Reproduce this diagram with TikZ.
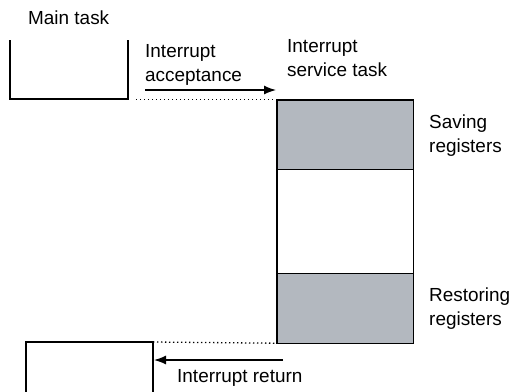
\documentclass[tikz,border=0pt]{standalone}
\usepackage{fontspec}
\setmainfont{Liberation Sans}
\usetikzlibrary{arrows.meta}
\definecolor{regfill}{RGB}{179,184,191}
\begin{document}
\begin{tikzpicture}[x=1bp,y=-1bp,
  lbl/.style={anchor=north west, inner sep=0pt, align=left, font=\fontsize{19}{23.5}\selectfont},
  boxline/.style={line width=1.3bp},
  seg/.style={minimum width=136bp, inner sep=0pt, anchor=north west},
  dots/.style={line width=1.3bp, dash pattern=on 1.3bp off 2.7bp},
  arr/.style={line width=1.3bp, -{Latex[length=12bp,width=9bp]}}]
\useasboundingbox (0,0) rectangle (512,391);
% interrupt service task column
\node[seg, fill=regfill, minimum height=69bp] (save) at (277,100) {};
\node[seg, minimum height=104bp] (body) at (save.south west) {};
\node[seg, fill=regfill, minimum height=69bp] (restore) at (body.south west) {};
\draw[boxline] (save.north west) rectangle (restore.south east);
\draw[boxline] (save.south west) -- (save.south east);
\draw[boxline] (restore.north west) -- (restore.north east);
% main task (top)
\coordinate (mtl) at (10,40);
\coordinate (mbl) at (10,99);
\coordinate (mbr) at (128,99);
\coordinate (mtr) at (128,40);
\draw[boxline] (mtl) -- (mbl) -- (mbr) -- (mtr);
% main task (bottom)
\coordinate (ntl) at (26,395);
\coordinate (nbl) at (26,342);
\coordinate (nbr) at (153,342);
\coordinate (ntr) at (153,395);
\draw[boxline] (ntl) -- (nbl) -- (nbr) -- (ntr);
% dotted guides
\coordinate (dstart) at (136,99.5);
\draw[dots] (dstart) -- (save.north west |- dstart);
\draw[dots] (nbr) -- (restore.south west);
% arrows
\coordinate (accs) at (145,90);
\coordinate (acce) at (276,90);
\draw[arr] (accs) -- (acce);
\coordinate (rets) at (283,360);
\coordinate (rete) at (154,360);
\draw[arr] (rets) -- (rete);
% labels
\node[lbl] (lmain) at (28,10.5) {Main task};
\node[lbl] (lacc) at (145,44.5) {Interrupt\\acceptance};
\node[lbl] (list) at (287,39.5) {Interrupt\\service task};
\node[lbl] (lsave) at (429,115) {Saving\\registers};
\node[lbl] (lrest) at (429,288) {Restoring\\registers};
\node[lbl] (lret) at (177,369.5) {Interrupt return};
\end{tikzpicture}
\end{document}
